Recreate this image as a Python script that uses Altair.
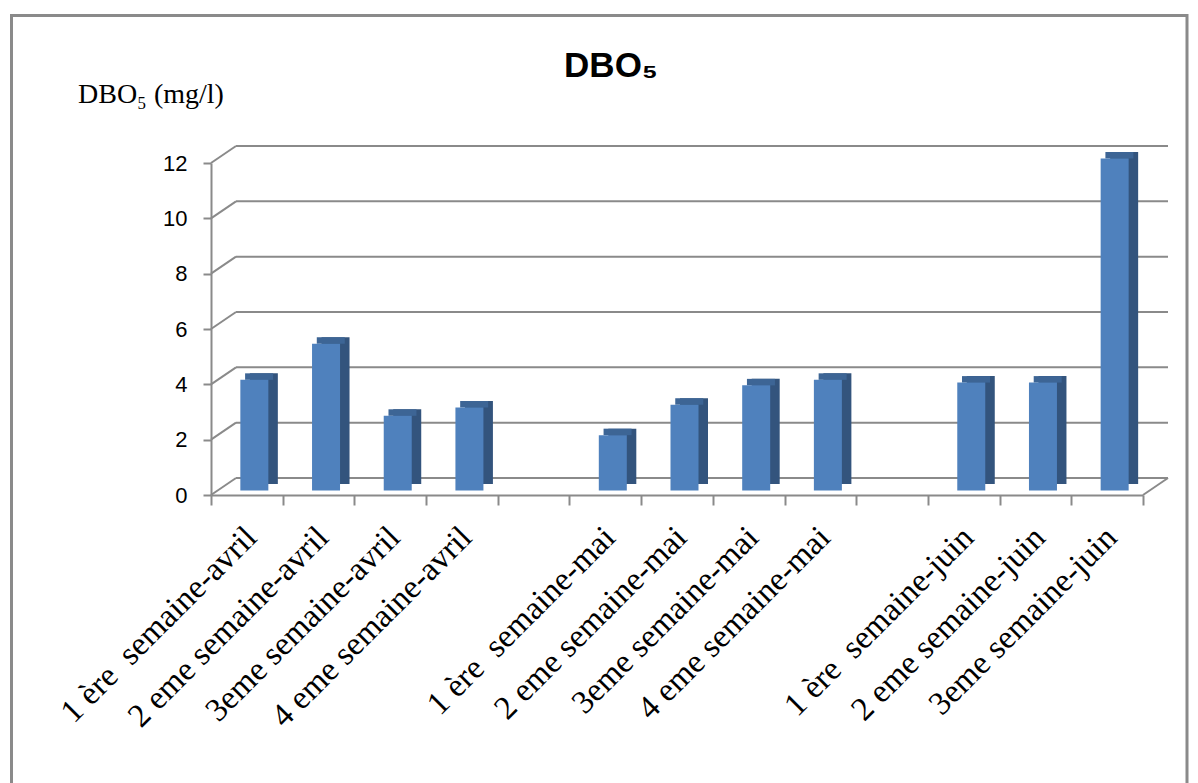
import altair as alt
import pandas as pd

# ---- data ----
categories = [
    "1 ère \u00a0semaine-avril", "2 eme semaine-avril", "3eme semaine-avril", "4 eme semaine-avril", " ",
    "1 ère \u00a0semaine-mai", "2 eme semaine-mai", "3eme semaine-mai", "4 eme semaine-mai", "  ",
    "1 ère \u00a0semaine-juin", "2 eme semaine-juin", "3eme semaine-juin",
]
values = [4, 5.3, 2.7, 3, None, 2, 3.1, 3.8, 4, None, 3.9, 3.9, 12]
y_ticks = [0, 2, 4, 6, 8, 10, 12]
title_text = "DBO₅"
y_title_text = "DBO₅ (mg/l)"

df = pd.DataFrame({"cat": categories, "v": values})
gdf = pd.DataFrame({"v": y_ticks})
one = alt.Data(values=[{"k": 1}])

W, H = 932, 332
DX, DY = 25, -17
GRAY = "#8a8a8a"
FRONT = "#4F81BD"
SIDE = "#33547D"
TOP = "#3D6595"

xscale = alt.Scale(domain=categories, paddingInner=0, paddingOuter=0)
yscale = alt.Scale(domain=[0, 12], nice=False, zero=True)

xaxis = alt.Axis(
    title=None, labelAngle=-45, labelAlign="right", labelBaseline="middle",
    labelFont="Liberation Serif", labelFontSize=33, labelColor="black",
    labelLimit=600, labelOverlap=False, labelPadding=27, labelOffset=4,
    tickBand="extent", tickSize=10, tickColor=GRAY, tickWidth=2,
    domainColor=GRAY, domainWidth=2, grid=False,
)
yaxis = alt.Axis(
    values=y_ticks, title=None, labelFont="Liberation Sans", labelFontSize=22,
    labelColor="black", labelPadding=16, tickSize=8, tickColor=GRAY, tickWidth=2,
    domainColor=GRAY, domainWidth=2, grid=False,
)

X = alt.X("cat:N", sort=categories, scale=xscale, axis=xaxis)
Y = alt.Y("v:Q", scale=yscale, axis=yaxis)

grid_back = alt.Chart(gdf).mark_rule(color=GRAY, strokeWidth=2, yOffset=DY).encode(
    y=Y, x=alt.value(DX), x2=alt.value(W + DX),
)
grid_diag = alt.Chart(gdf).mark_rule(color=GRAY, strokeWidth=2, y2Offset=DY).encode(
    y=Y, y2="v:Q", x=alt.value(0), x2=alt.value(DX),
)
floor_diag = alt.Chart(one).mark_rule(color=GRAY, strokeWidth=2).encode(
    x=alt.value(W), x2=alt.value(W + DX), y=alt.value(H), y2=alt.value(H + DY),
)

side = alt.Chart(df).mark_bar(
    color=SIDE, size=28, xOffset=17, x2Offset=17, yOffset=-11, y2Offset=-11
).encode(x=X, y=Y)
top = alt.Chart(df).mark_bar(
    color=TOP, size=28, xOffset=12.25, x2Offset=12.25, yOffset=-11, y2Offset=-4.5
).encode(x=X, y=Y, y2="v:Q")
front = alt.Chart(df).mark_bar(
    color=FRONT, size=28, xOffset=7.5, x2Offset=7.5, yOffset=-4.5, y2Offset=-4.5
).encode(x=X, y=Y)

title = alt.Chart(one).mark_text(
    text=title_text, font="Liberation Sans", fontWeight="bold", fontSize=35,
    align="center", baseline="alphabetic", color="black",
).encode(x=alt.value(400), y=alt.value(-86))
ytitle = alt.Chart(one).mark_text(
    text=y_title_text, font="Liberation Serif", fontSize=28,
    align="left", baseline="alphabetic", color="black",
).encode(x=alt.value(-133), y=alt.value(-60))

border = alt.Chart(one).mark_rect(filled=False, stroke=GRAY, strokeWidth=3).encode(
    x=alt.value(-199.5), x2=alt.value(976), y=alt.value(-147.5), y2=alt.value(700),
)

chart = alt.layer(
    border, grid_back, grid_diag, floor_diag, side, top, front, title, ytitle
).properties(
    width=W, height=H,
    autosize=alt.AutoSizeParams(type="none"),
    padding={"left": 211, "top": 163, "right": 55, "bottom": 288},
    background="white",
).configure_view(strokeWidth=0)

chart.save("out.html", embed_options={"renderer": "svg", "actions": False})
